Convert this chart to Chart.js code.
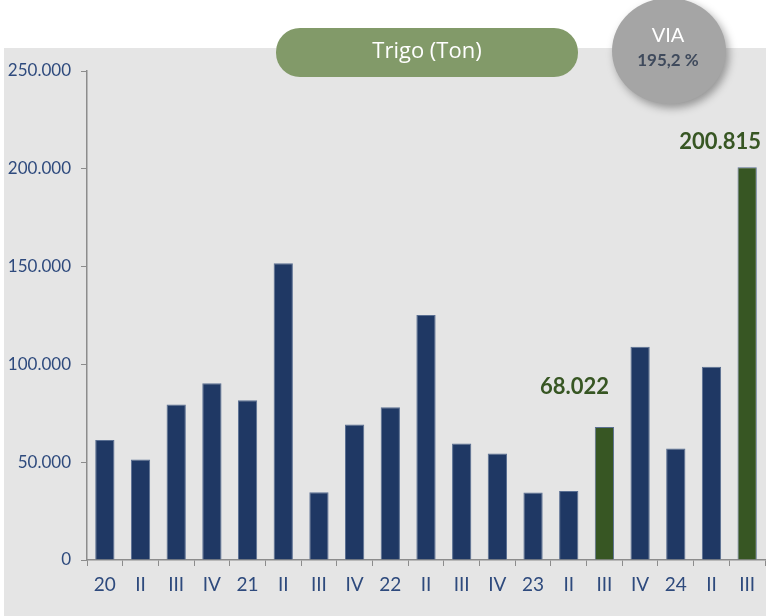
<!DOCTYPE html>
<html>
<head>
<meta charset="utf-8">
<script src="https://cdn.jsdelivr.net/npm/chart.js@4/dist/chart.umd.min.js"></script>
<style>
  html, body { margin: 0; padding: 0; background: #ffffff; }
  #wrap { width: 766px; height: 616px; position: relative; }
</style>
</head>
<body>
<div id="wrap"><canvas id="chart" width="766" height="616"></canvas></div>
<script>
const categories = ['20', 'II', 'III', 'IV', '21', 'II', 'III', 'IV', '22', 'II', 'III', 'IV', '23', 'II', 'III', 'IV', '24', 'II', 'III'];
const trigoValues = [61400, 51400, 79500, 90300, 81700, 151700, 34600, 69300, 78100, 125200, 59600, 54500, 34500, 35300, 68022, 109000, 57000, 98800, 200815];
const highlighted = [14, 18];
const yTicks = [0, 50000, 100000, 150000, 200000, 250000];
const chartTitle = 'Trigo (Ton)';
const viaLabel = ['VIA', '195,2 %'];

const navy = '#1f3864';
const green = '#375623';
const tickBlue = '#2e4a7d';

const fmt = v => v.toLocaleString('de-DE');

const barColors = trigoValues.map((v, i) => highlighted.includes(i) ? green : navy);

// background panel, title pill and VIA bubble
const decorations = {
    id: 'decorations',
    beforeDraw(chart) {
        const ctx = chart.ctx;
        ctx.save();
        ctx.fillStyle = '#e5e5e5';
        ctx.fillRect(4, 48, chart.width - 4, chart.height - 48);
        ctx.restore();
    },
    afterDraw(chart) {
        const ctx = chart.ctx;
        ctx.save();

        // title pill
        ctx.fillStyle = '#829a69';
        ctx.beginPath();
        ctx.roundRect(276, 28, 302, 49, 24);
        ctx.fill();
        ctx.fillStyle = '#ffffff';
        ctx.font = '22px "Open Sans", Lato, sans-serif';
        ctx.textAlign = 'center';
        ctx.textBaseline = 'middle';
        ctx.fillText(chartTitle, 427, 52);

        // VIA bubble
        ctx.shadowColor = 'rgba(0,0,0,0.35)';
        ctx.shadowBlur = 8;
        ctx.shadowOffsetX = 3;
        ctx.shadowOffsetY = 4;
        ctx.fillStyle = '#a5a5a5';
        ctx.beginPath();
        ctx.ellipse(669, 51, 57, 53, 0, 0, Math.PI * 2);
        ctx.fill();
        ctx.shadowColor = 'transparent';
        ctx.fillStyle = '#ffffff';
        ctx.font = '20px Lato, "Open Sans", sans-serif';
        ctx.fillText(viaLabel[0], 668, 36);
        ctx.fillStyle = '#3f4a5c';
        ctx.font = 'bold 17px Lato, "Open Sans", sans-serif';
        ctx.fillText(viaLabel[1], 668, 61);

        ctx.restore();
    }
};

// value labels for the highlighted bars
const labelOffsets = { 14: { dx: -30, dy: -40 }, 18: { dx: -27, dy: -25 } };
const valueLabels = {
    id: 'valueLabels',
    afterDatasetsDraw(chart) {
        const ctx = chart.ctx;
        const meta = chart.getDatasetMeta(0);
        ctx.save();
        ctx.fillStyle = green;
        ctx.font = 'bold 22px Lato, "Open Sans", sans-serif';
        ctx.textAlign = 'center';
        ctx.textBaseline = 'middle';
        highlighted.forEach(i => {
            const bar = meta.data[i];
            const off = labelOffsets[i];
            ctx.fillText(fmt(trigoValues[i]), bar.x + off.dx, bar.y + off.dy);
        });
        ctx.restore();
    }
};

new Chart(document.getElementById('chart'), {
    type: 'bar',
    data: {
        labels: categories,
        datasets: [{
            data: trigoValues,
            backgroundColor: barColors,
            borderColor: '#5a6f92',
            borderWidth: { top: 1, left: 1, right: 1, bottom: 0 },
            barPercentage: 0.54,
            categoryPercentage: 1
        }]
    },
    options: {
        responsive: false,
        animation: false,
        layout: {
            padding: { top: 71, right: 1, left: 0, bottom: 0 }
        },
        plugins: {
            legend: { display: false },
            tooltip: { enabled: false }
        },
        scales: {
            x: {
                grid: {
                    display: true,
                    drawOnChartArea: false,
                    drawTicks: true,
                    tickLength: 6,
                    color: '#8c8c8c',
                    offset: true
                },
                border: { color: '#8c8c8c', width: 1.5 },
                ticks: {
                    color: tickBlue,
                    font: { family: 'Lato, "Open Sans", sans-serif', size: 19 },
                    padding: 7,
                    maxRotation: 0,
                    autoSkip: false
                },
                afterFit(scale) { scale.height = 56; }
            },
            y: {
                min: 0,
                max: 250000,
                afterBuildTicks(scale) {
                    scale.ticks = yTicks.map(v => ({ value: v }));
                },
                grid: {
                    display: true,
                    drawOnChartArea: false,
                    drawTicks: true,
                    tickLength: 6,
                    color: '#8c8c8c'
                },
                border: { color: '#8c8c8c', width: 1.5 },
                ticks: {
                    color: tickBlue,
                    font: { family: 'Lato, "Open Sans", sans-serif', size: 17 },
                    padding: 10,
                    callback: v => fmt(v)
                },
                afterFit(scale) { scale.width = 87; }
            }
        }
    },
    plugins: [decorations, valueLabels]
});
</script>
</body>
</html>
